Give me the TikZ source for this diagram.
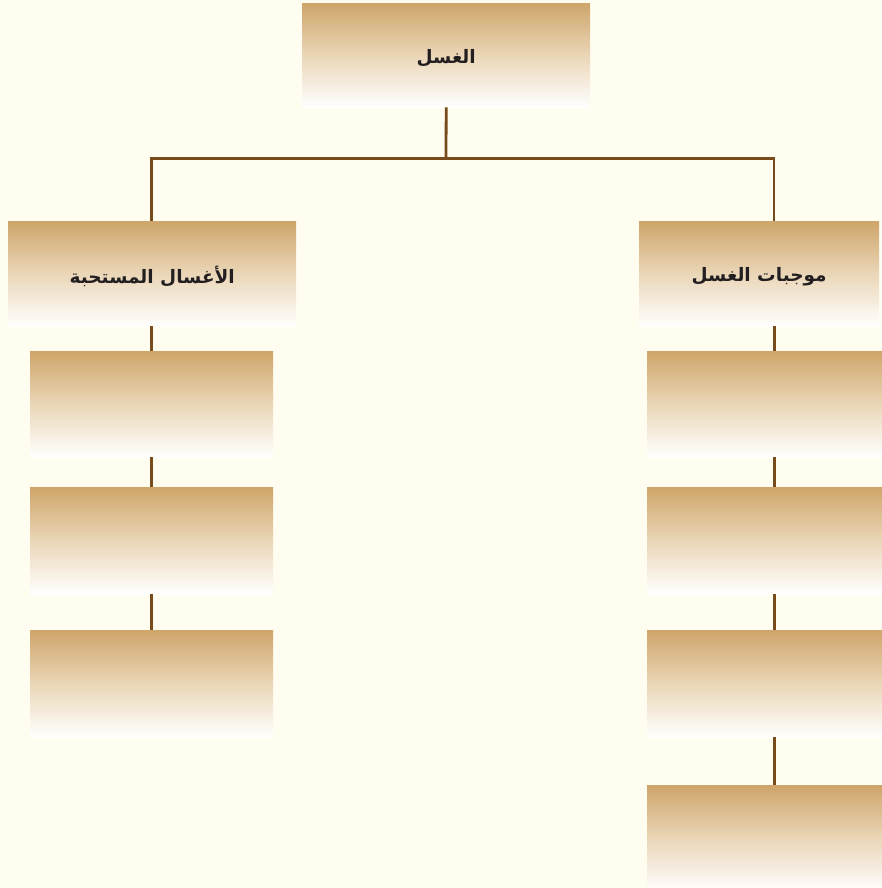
\documentclass[tikz,border=0pt]{standalone}
\usepackage{fontspec}
\newfontfamily\arabicfont[Script=Arabic]{DejaVu Sans}
\TeXXeTstate=1
\definecolor{bgc}{RGB}{255,253,240}
\definecolor{tan}{RGB}{206,165,106}
\definecolor{tanmid}{RGB}{234,214,183}
\definecolor{linec}{RGB}{120,75,28}
\definecolor{txt}{RGB}{35,31,32}
\newcommand{\artxt}[1]{\raisebox{-3pt}[\height][\depth]{\beginR #1\endR}}
\tikzset{
  box/.style={rectangle, anchor=north west, inner sep=0pt, draw=none,
    top color=tan, bottom color=white, middle color=tanmid,
    text=txt, font=\arabicfont\bfseries\fontsize{18.5}{22}\selectfont},
  conn/.style={draw=linec, line width=2.8pt},
}
\begin{document}
\begin{tikzpicture}[x=1pt,y=-1pt]
\fill[bgc] (0,0) rectangle (882,888);
\clip (0,0) rectangle (882,888);
\useasboundingbox (0,0) rectangle (882,888);
% boxes
\node[box, minimum width=288pt, minimum height=104pt] (top) at (302,3) {\artxt{الغسل}};
\node[box, minimum width=288pt, minimum height=105pt] (lh) at (8,221) {\artxt{الأغسال المستحبة}};
\node[box, minimum width=240pt, minimum height=105pt] (rh) at (639,221) {\artxt{موجبات الغسل}};
\node[box, minimum width=243pt, minimum height=106pt] (l1) at (30,351) {};
\node[box, minimum width=243pt, minimum height=107pt] (l2) at (30,487) {};
\node[box, minimum width=243pt, minimum height=107pt] (l3) at (30,630) {};
\node[box, minimum width=254pt, minimum height=106pt] (r1) at (647,351) {};
\node[box, minimum width=254pt, minimum height=107pt] (r2) at (647,487) {};
\node[box, minimum width=254pt, minimum height=107pt] (r3) at (647,630) {};
\node[box, minimum width=254pt, minimum height=107pt] (r4) at (647,785) {};
% connectors
\coordinate (j) at (446,158.5);
\coordinate (hl) at (151.5,158.5);
\coordinate (hr) at (774,158.5);
\draw[conn] (top.south) -- (j);
\draw[conn] ([xshift=-1.4pt]hl) -- ([xshift=1.4pt]hr);
\draw[conn] (hl) -- (hl |- lh.north);
\draw[conn] (hr) -- (hr |- rh.north);
\draw[conn] (lh.south -| l1.north) -- (l1.north);
\draw[conn] (l1.south) -- (l2.north);
\draw[conn] (l2.south) -- (l3.north);
\draw[conn] (rh.south -| r1.north) -- (r1.north);
\draw[conn] (r1.south) -- (r2.north);
\draw[conn] (r2.south) -- (r3.north);
\draw[conn] (r3.south) -- (r4.north);
\end{tikzpicture}
\end{document}
